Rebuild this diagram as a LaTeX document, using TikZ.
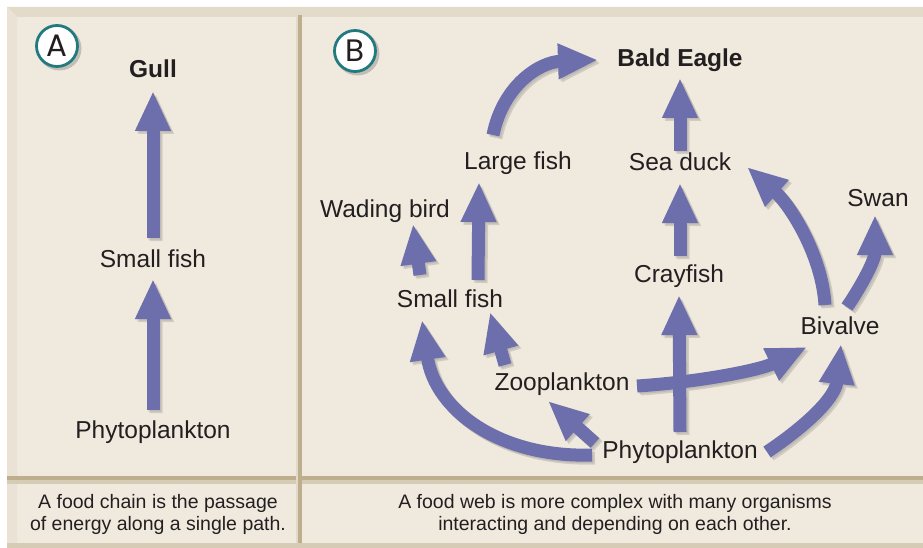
\documentclass[tikz,border=0pt]{standalone}
\usepackage{fontspec}
\setmainfont{Liberation Sans}
\newfontfamily\circfont{Poppins}
\usetikzlibrary{arrows.meta,calc}
\definecolor{bg}{RGB}{239,233,222}
\definecolor{bevel}{RGB}{226,219,202}
\definecolor{bevlight}{RGB}{233,226,213}
\definecolor{divd}{RGB}{189,175,142}
\definecolor{divl}{RGB}{214,204,182}
\definecolor{arrc}{RGB}{108,111,172}
\definecolor{txt}{RGB}{35,31,32}
\definecolor{tealc}{RGB}{33,122,128}
\tikzset{
  lbl/.style={font=\fontsize{24.5}{28}\selectfont, text=txt, inner sep=0pt, anchor=base},
  blbl/.style={font=\fontsize{24.5}{28}\selectfont\bfseries, text=txt, inner sep=0pt, anchor=base},
  captxt/.style={font=\fontsize{19.5}{22}\selectfont, text=txt, inner sep=0pt, align=center},
  arr/.style={draw=arrc, line width=13pt, -{Triangle[width=33pt 0 1,length=40pt 0 1]}},
  sarr/.style={draw=black, line width=13pt, -{Triangle[width=33pt 0 1,length=40pt 0 1]}},
  letter/.style={circle, draw=tealc, line width=2.8pt, fill=white, minimum size=41pt, inner sep=0pt, font=\circfont\fontsize{31}{32}\selectfont, text=txt}
}
\newcommand\webarrows[1]{%
  % panel A
  \draw[#1] ($(phyA.base)+(0,-28)$) -- ($(sfA.base)+(0,12)$);
  \draw[#1] ($(sfA.base)+(0,-29)$) -- ($(gull.base)+(0,13)$);
  % panel B
  \draw[#1] ($(phyB.base)+(0,-26)$) -- ($(cray.base)+(0,13)$);
  \draw[#1] ($(zoo.base)+(75,-4)$) .. controls (700,382) and (760,370) .. ($(biv.base)+(-33,13)$);
  \draw[#1] ($(cray.base)+(1,-26)$) -- ($(duck.base)+(0,12)$);
  \draw[#1] ($(duck.base)+(0,-20)$) -- ($(eagle.base)+(0,11)$);
  \draw[#1] ($(lfish.base)+(-25,-35)$) .. controls (503,85) and (540,62) .. ($(eagle.base)+(-82,-7)$);
  \draw[#1] ($(biv.base)+(-15,-29)$) .. controls (822,255) and (790,205) .. ($(duck.base)+(67,-4)$);
  \draw[#1] ($(biv.base)+(7,-27)$) .. controls (862,285) and (875,260) .. ($(swan.base)+(-3,8)$);
  \draw[#1] ($(sfB.base)+(-30,-32)$) -- ($(wade.base)+(28,7)$);
  \draw[#1] ($(sfB.base)+(28,-27)$) -- ($(lfish.base)+(-39,12)$);
  \draw[#1] ($(zoo.base)+(-57,-25)$) -- ($(sfB.base)+(40,5)$);
  \draw[#1] ($(phyB.base)+(-88,-3)$) .. controls (500,458) and (435,410) .. ($(sfB.base)+(-28,13)$);
  \draw[#1] ($(phyB.base)+(-85,-15)$) -- ($(zoo.base)+(-14,11)$);
  \draw[#1] ($(phyB.base)+(87,-6)$) .. controls (800,430) and (835,400) .. ($(biv.base)+(1,10)$);
}
\begin{document}
\begin{tikzpicture}[x=1pt,y=-1pt]
\useasboundingbox (0,0) rectangle (923,548);
% frame
\fill[white] (0,0) rectangle (923,548);
\fill[bg] (7,7) rectangle (923,548);
\fill[bevel] (7,7) -- (923,7) -- (923,17) -- (17,17) -- cycle;
\fill[bevlight] (7,7) -- (17,17) -- (17,543) -- (7,543) -- cycle;
\fill[divd] (7,476) rectangle (923,480);
\fill[divl] (7,480) rectangle (923,484);
\fill[divl!50!bg] (296,17) rectangle (298,543);
\fill[divd] (298,15) rectangle (302,548);
\fill[divl] (7,543) rectangle (923,548);
% letter circles
\fill[black, opacity=0.18] (59.5,48.5) circle (22);
\fill[black, opacity=0.18] (357.5,53.5) circle (22);
\node[letter] (lA) at (57,46) {A};
\node[letter] (lB) at (355,51) {B};
% labels panel A
\node[blbl] (gull) at (153,78) {Gull};
\node[lbl] (sfA) at (153,267) {Small fish};
\node[lbl] (phyA) at (153,438) {Phytoplankton};
% labels panel B
\node[blbl] (eagle) at (680,67) {Bald Eagle};
\node[lbl] (lfish) at (518,170) {Large fish};
\node[lbl] (duck) at (680,171) {Sea duck};
\node[lbl] (wade) at (385,217) {Wading bird};
\node[lbl] (swan) at (878,207) {Swan};
\node[lbl] (cray) at (679,282) {Crayfish};
\node[lbl] (sfB) at (450,307) {Small fish};
\node[lbl] (biv) at (840,334) {Bivalve};
\node[lbl] (zoo) at (562,390) {Zooplankton};
\node[lbl] (phyB) at (680,458) {Phytoplankton};
% captions
\node[captxt] (capA) at (158,514) {A food chain is the passage\\of energy along a single path.};
\node[captxt] (capB) at (615,514) {A food web is more complex with many organisms\\interacting and depending on each other.};
% arrow shadows
\begin{scope}[transparency group, opacity=0.12, transform canvas={shift={(3,3)}}]
\webarrows{sarr}
\end{scope}
\begin{scope}[transparency group, opacity=0.08, transform canvas={shift={(1.5,1.5)}}]
\webarrows{sarr}
\end{scope}
% arrows
\webarrows{arr}
\end{tikzpicture}
\end{document}
